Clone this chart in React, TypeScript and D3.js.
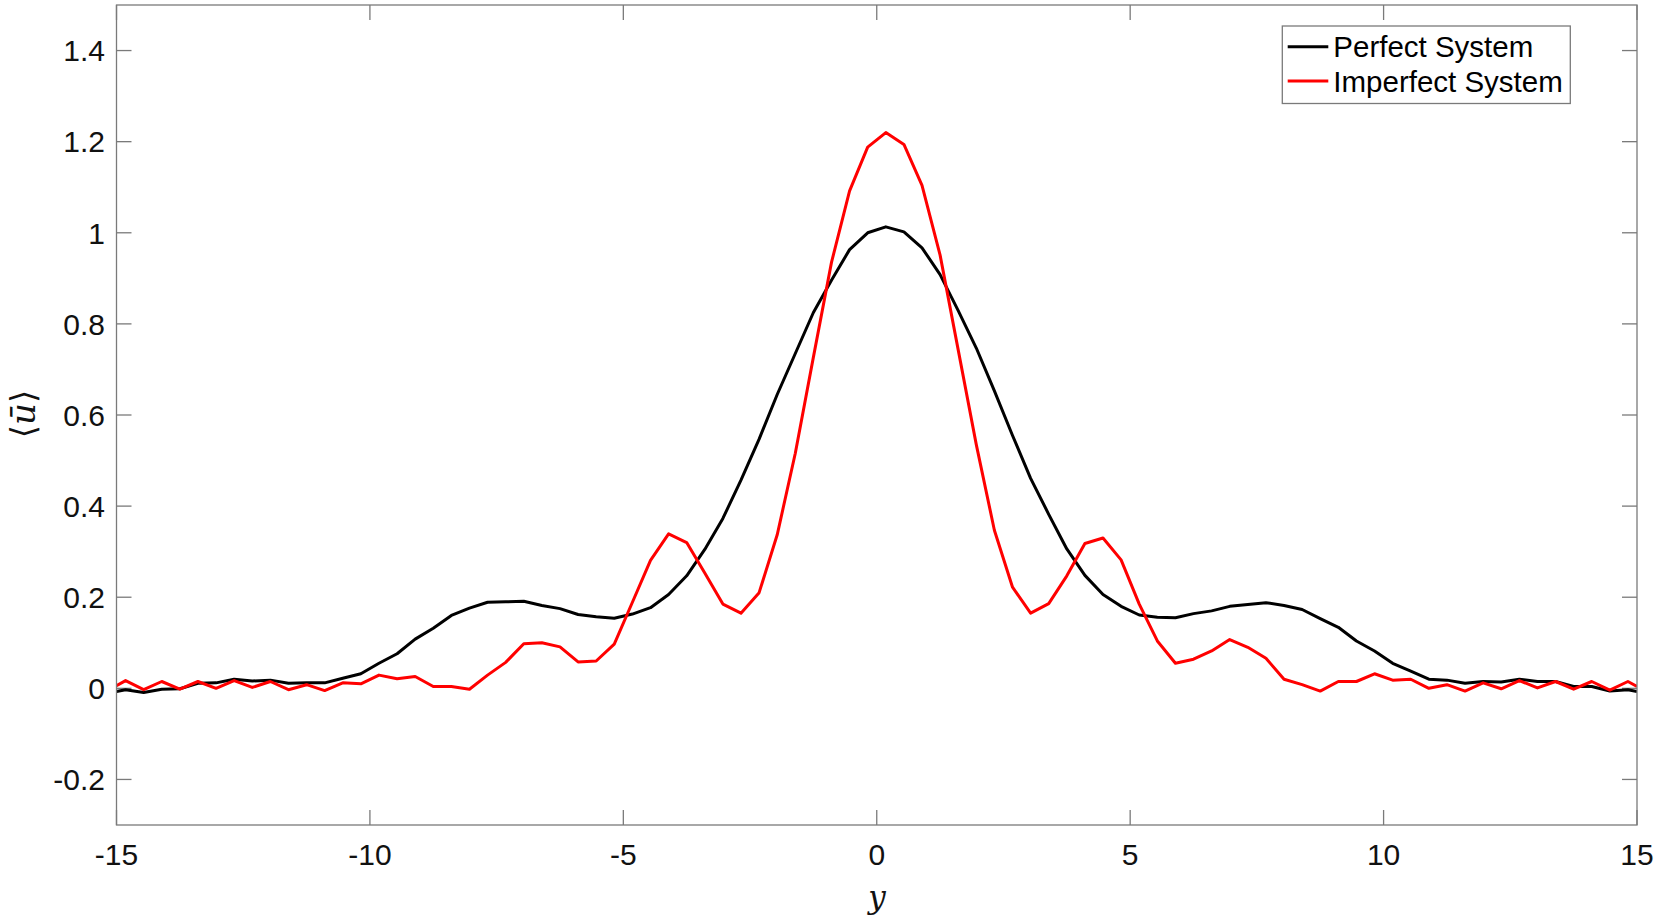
import React from "react";
import * as d3 from "d3";

// y-grid (cell centres, plus the two domain ends)
const yGrid = [
  -15, -14.821, -14.464, -14.107, -13.75, -13.393, -13.036, -12.679, -12.321, -11.964, -11.607,
  -11.25, -10.893, -10.536, -10.179, -9.821, -9.464, -9.107, -8.75, -8.393, -8.036,
  -7.679, -7.321, -6.964, -6.607, -6.25, -5.893, -5.536, -5.179, -4.821, -4.464,
  -4.107, -3.75, -3.393, -3.036, -2.679, -2.321, -1.964, -1.607, -1.25, -0.893,
  -0.536, -0.179, 0.179, 0.536, 0.893, 1.25, 1.607, 1.964, 2.321, 2.679,
  3.036, 3.393, 3.75, 4.107, 4.464, 4.821, 5.179, 5.536, 5.893, 6.25,
  6.607, 6.964, 7.321, 7.679, 8.036, 8.393, 8.75, 9.107, 9.464, 9.821,
  10.179, 10.536, 10.893, 11.25, 11.607, 11.964, 12.321, 12.679, 13.036, 13.393,
  13.75, 14.107, 14.464, 14.821, 15,
];

const perfectSystem = [
  -0.007, -0.003, -0.009, -0.002, -0.001, 0.011, 0.012, 0.02, 0.016, 0.018, 0.011,
  0.012, 0.012, 0.022, 0.032, 0.055, 0.076, 0.108, 0.132, 0.16, 0.176,
  0.189, 0.19, 0.191, 0.182, 0.175, 0.162, 0.157, 0.154, 0.163, 0.177,
  0.206, 0.247, 0.305, 0.373, 0.457, 0.547, 0.645, 0.735, 0.825, 0.896,
  0.963, 1.0, 1.013, 1.002, 0.967, 0.908, 0.829, 0.747, 0.653, 0.555,
  0.461, 0.382, 0.306, 0.248, 0.206, 0.18, 0.161, 0.156, 0.155, 0.164,
  0.17, 0.18, 0.184, 0.188, 0.182, 0.173, 0.153, 0.134, 0.104, 0.082,
  0.055, 0.038, 0.02, 0.018, 0.011, 0.015, 0.014, 0.02, 0.015, 0.015,
  0.004, 0.004, -0.006, -0.003, -0.007,
];

const imperfectSystem = [
  0.006, 0.017, -0.003, 0.015, -0.002, 0.015, 0.0, 0.017, 0.002, 0.015, -0.003,
  0.008, -0.005, 0.012, 0.01, 0.029, 0.021, 0.026, 0.004, 0.004, -0.002,
  0.029, 0.057, 0.098, 0.1, 0.091, 0.058, 0.06, 0.097, 0.189, 0.281,
  0.339, 0.32, 0.253, 0.185, 0.165, 0.21, 0.337, 0.516, 0.727, 0.935,
  1.092, 1.188, 1.22, 1.194, 1.104, 0.951, 0.743, 0.535, 0.347, 0.222,
  0.165, 0.186, 0.247, 0.318, 0.33, 0.282, 0.185, 0.104, 0.055, 0.064,
  0.082, 0.107, 0.09, 0.066, 0.02, 0.008, -0.006, 0.015, 0.015, 0.032,
  0.018, 0.02, 0.0, 0.008, -0.006, 0.012, -0.001, 0.017, 0.001, 0.015,
  -0.002, 0.015, -0.004, 0.015, 0.004,
];

const xTicks = [-15, -10, -5, 0, 5, 10, 15];
const yTicks = [-0.2, 0, 0.2, 0.4, 0.6, 0.8, 1, 1.2, 1.4];
const seriesNames = ["Perfect System", "Imperfect System"];
const seriesColors = ["#000000", "#ff0000"];

const W = 1658;
const H = 917;
const L = 116.5;
const R = 1637;
const T = 5;
const B = 825;

export default function App() {
  const x = d3.scaleLinear().domain([-15, 15]).range([L, R]);
  const y = d3.scaleLinear().domain([-0.3, 1.5]).range([B, T]);
  const line = (vals: number[]) =>
    d3
      .line<number>()
      .x((_, i) => x(yGrid[i]))
      .y((d) => y(d))(vals) as string;

  const axisColor = "#7a7a7a";
  const font = "'Liberation Sans', Arial, Helvetica, sans-serif";
  const fs = 30;
  const tickLen = 15;

  const legendX = 1282.3;
  const legendY = 26;
  const legendW = 288;
  const legendH = 77.5;
  const rowY = [46.7, 81];

  return (
    <svg
      width={W}
      height={H}
      style={{ position: "absolute", left: 0, top: 0, background: "#fff" }}
    >
      <rect x={0} y={0} width={W} height={H} fill="#fff" />
      <defs>
        <clipPath id="plotClip">
          <rect x={L} y={T} width={R - L} height={B - T} />
        </clipPath>
      </defs>

      {/* ticks */}
      {xTicks.map((t) => (
        <g key={"xt" + t}>
          <line x1={x(t)} x2={x(t)} y1={B} y2={B - tickLen} stroke={axisColor} strokeWidth={1.3} />
          <line x1={x(t)} x2={x(t)} y1={T} y2={T + tickLen} stroke={axisColor} strokeWidth={1.3} />
          <text
            x={x(t)}
            y={865}
            textAnchor="middle"
            fontFamily={font}
            fontSize={fs}
            fill="#111"
          >
            {t}
          </text>
        </g>
      ))}
      {yTicks.map((t) => (
        <g key={"yt" + t}>
          <line x1={L} x2={L + tickLen} y1={y(t)} y2={y(t)} stroke={axisColor} strokeWidth={1.3} />
          <line x1={R} x2={R - tickLen} y1={y(t)} y2={y(t)} stroke={axisColor} strokeWidth={1.3} />
          <text
            x={105}
            y={y(t)}
            dy="0.36em"
            textAnchor="end"
            fontFamily={font}
            fontSize={fs}
            fill="#111"
          >
            {String(Math.round(t * 10) / 10)}
          </text>
        </g>
      ))}

      {/* data */}
      <g clipPath="url(#plotClip)">
        <path d={line(perfectSystem)} fill="none" stroke={seriesColors[0]} strokeWidth={3} strokeLinejoin="round" />
        <path d={line(imperfectSystem)} fill="none" stroke={seriesColors[1]} strokeWidth={3} strokeLinejoin="round" />
      </g>

      {/* axes box */}
      <rect x={L} y={T} width={R - L} height={B - T} fill="none" stroke={axisColor} strokeWidth={1.3} />

      {/* axis labels */}
      <text
        x={877}
        y={908}
        textAnchor="middle"
        fontFamily="'DejaVu Serif', 'Liberation Serif', serif"
        fontStyle="italic"
        fontSize={31}
        fill="#111"
      >
        y
      </text>
      <text
        transform="translate(23,414) rotate(-90)"
        textAnchor="middle"
        dy="0.35em"
        fontFamily="'DejaVu Serif', 'Liberation Serif', serif"
        fontSize={34}
        fill="#111"
      >
        ⟨<tspan fontStyle="italic">ū</tspan>⟩
      </text>

      {/* legend */}
      <rect x={legendX} y={legendY} width={legendW} height={legendH} fill="#fff" stroke={axisColor} strokeWidth={1.3} />
      {seriesNames.map((n, i) => (
        <g key={n}>
          <line x1={1287.7} x2={1328.3} y1={rowY[i]} y2={rowY[i]} stroke={seriesColors[i]} strokeWidth={3} />
          <text
            x={1333.3}
            y={rowY[i]}
            dy="0.36em"
            fontFamily={font}
            fontSize={29.5}
            fill="#000"
          >
            {n}
          </text>
        </g>
      ))}
    </svg>
  );
}
